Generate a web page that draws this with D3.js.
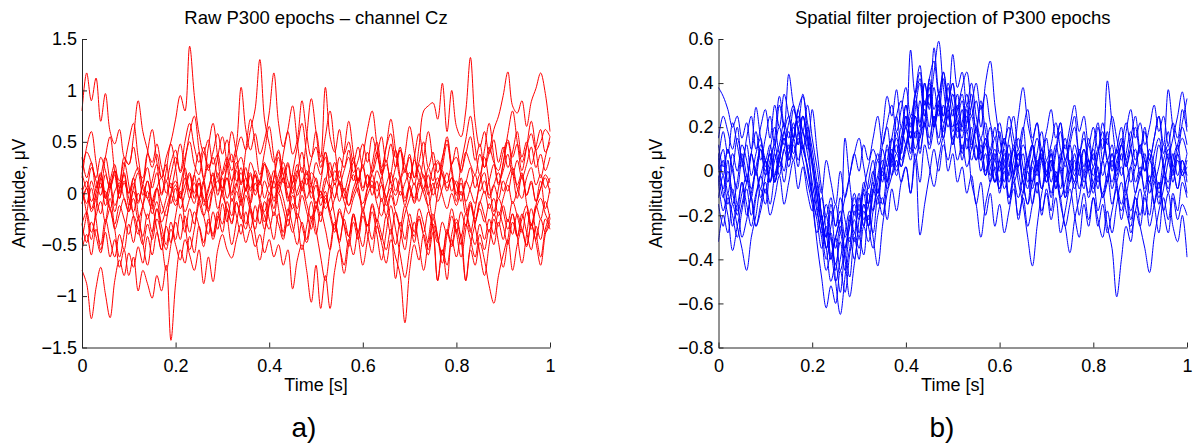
<!DOCTYPE html>
<html>
<head>
<meta charset="utf-8">
<script src="https://cdn.jsdelivr.net/npm/d3@7"></script>
<style>
  body { margin: 0; background: #fff; }
  svg { display: block; }
  text { font-family: "Liberation Sans", Arial, Helvetica, sans-serif; fill: #000; }
</style>
</head>
<body>
<svg id="fig" width="1194" height="447"></svg>
<script>
// Sampling interval of every epoch (s); sample i sits at i * sampleStep.
const sampleStep = 0.01;

const timeTicks = [0, 0.2, 0.4, 0.6, 0.8, 1];
const rawTicks = [-1.5, -1, -0.5, 0, 0.5, 1, 1.5];
const projTicks = [-0.8, -0.6, -0.4, -0.2, 0, 0.2, 0.4, 0.6];

const rawTitle = "Raw P300 epochs \u2013 channel Cz";
const projTitle = "Spatial filter projection of P300 epochs";
const xLabel = "Time [s]";
const yLabel = "Amplitude, \u03bcV";

// Raw single-trial epochs at Cz (µV), 101 samples each.
const rawEpochs = [
  [0.80, 1.17, 0.90, 1.12, 0.70, 0.97, 0.60, 0.48, 0.62, 0.35,
   0.28, 0.45, 0.22, 0.15, 0.38, 0.30, 0.48, 0.25, 0.12, 0.30,
   0.42, 0.20, 0.35, 0.50, 0.28, 0.18, 0.40, 0.22, 0.35, 0.15,
   0.05, 0.25, 0.38, 0.12, 0.20, 0.02, 0.30, 0.18, 0.08, 0.28,
   0.15, -0.05, 0.12, 0.25, 0.05, 0.18, -0.02, 0.10, 0.22, 0.08,
   0.30, 0.18, 0.40, 0.22, 0.12, 0.35, 0.25, 0.42, 0.20, 0.32,
   0.48, 0.30, 0.55, 0.38, 0.25, 0.45, 0.58, 0.35, 0.42, 0.28,
   0.15, 0.32, 0.20, 0.05, 0.25, 0.12, 0.30, 0.18, 0.02, 0.15,
   0.08, -0.08, 0.12, 0.02, -0.10, 0.10, 0.20, -0.02, 0.08, -0.05,
   0.12, 0.02, 0.20, 0.05, -0.05, 0.15, 0.25, 0.08, 0.18, 0.05,
   0.15],
  [0.20, 0.05, 0.25, 0.12, -0.02, 0.18, 0.05, 0.22, -0.05, 0.10,
   0.00, 0.15, 0.25, 0.05, -0.05, 0.12, 0.28, 0.15, 0.35, 0.50,
   0.72, 0.95, 0.80, 1.43, 0.95, 0.58, 0.40, 0.52, 0.28, 0.38,
   0.18, 0.30, 0.12, 0.25, 0.35, 0.15, 0.05, 0.22, 0.10, 0.28,
   0.20, 0.05, 0.18, 0.30, 0.12, 0.00, 0.15, 0.25, 0.08, 0.20,
   0.12, -0.02, 0.15, 0.05, 0.22, 0.10, -0.05, 0.08, 0.18, 0.00,
   -0.10, 0.05, 0.12, -0.05, 0.08, -0.12, 0.02, 0.15, -0.02, 0.10,
   0.20, 0.08, 0.28, 0.15, 0.05, 0.25, 0.32, 0.18, 0.10, 0.28,
   0.35, 0.20, 0.40, 0.28, 0.18, 0.38, 0.25, 0.45, 0.30, 0.22,
   0.40, 0.52, 0.35, 0.48, 0.30, 0.45, 0.58, 0.42, 0.50, 0.62,
   0.55],
  [-0.10, 0.05, -0.18, -0.05, 0.10, -0.12, 0.05, 0.22, 0.12, 0.35,
   0.28, 0.55, 0.90, 0.60, 0.42, 0.25, 0.38, 0.15, 0.28, 0.05,
   0.12, -0.05, 0.08, 0.20, 0.00, 0.15, -0.08, 0.05, 0.18, 0.02,
   0.20, 0.35, 0.22, 0.40, 0.55, 0.42, 0.62, 0.82, 1.30, 0.72,
   0.48, 0.30, 0.42, 0.18, 0.30, 0.10, 0.22, 0.02, 0.15, -0.05,
   0.08, -0.12, 0.02, -0.18, -0.05, 0.10, -0.08, -0.20, -0.05, 0.05,
   -0.15, -0.02, 0.08, -0.10, -0.22, -0.05, 0.05, -0.12, 0.02, -0.08,
   0.05, -0.05, 0.12, 0.02, 0.18, -0.02, 0.10, 0.22, 0.05, 0.15,
   -0.02, 0.10, -0.08, 0.05, 0.18, 0.02, 0.12, -0.05, 0.08, 0.20,
   0.02, 0.15, 0.25, 0.08, 0.20, -0.02, 0.12, -0.08, 0.05, 0.15,
   0.00],
  [-0.30, -0.18, -0.38, -0.22, -0.08, -0.28, -0.15, -0.35, -0.20, -0.05,
   -0.18, 0.02, -0.10, 0.08, -0.05, -0.15, 0.05, 0.15, 0.00, 0.18,
   0.35, 0.22, 0.50, 0.68, 0.45, 0.30, 0.45, 0.25, 0.40, 0.58,
   0.38, 0.52, 0.30, 0.48, 1.03, 0.62, 0.42, 0.58, 0.38, 0.52,
   0.78, 1.17, 0.68, 0.45, 0.60, 0.38, 0.52, 0.90, 0.58, 0.35,
   0.45, 0.25, 0.40, 0.15, 0.30, 0.08, 0.22, 0.35, 0.12, 0.25,
   0.05, 0.18, -0.02, 0.12, -0.08, 0.08, 0.20, 0.02, 0.15, -0.05,
   0.08, -0.10, 0.05, 0.18, -0.02, 0.10, -0.08, 0.05, 0.20, 0.02,
   0.12, -0.02, 0.10, 0.25, 0.05, 0.18, 0.00, 0.12, 0.28, 0.10,
   0.22, 0.38, 0.18, 0.32, 0.15, 0.28, 0.45, 0.25, 0.38, 0.22,
   0.35],
  [-0.30, -0.48, -0.28, -0.42, -0.58, -0.38, -0.62, -0.45, -0.72, -0.55,
   -0.80, -0.62, -0.95, -0.75, -0.88, -1.02, -0.80, -0.95, -0.70, -1.43,
   -0.88, -0.55, -0.68, -0.42, -0.58, -0.32, -0.48, -0.25, -0.40, -0.18,
   -0.30, -0.08, -0.22, 0.02, -0.12, 0.05, -0.10, 0.10, -0.05, -0.18,
   0.00, -0.15, 0.08, -0.05, -0.22, -0.02, -0.15, 0.05, -0.10, -0.25,
   -0.08, -0.22, -0.02, -0.18, -0.35, -0.15, -0.30, -0.42, -0.22, -0.38,
   -0.18, -0.32, -0.12, -0.28, -0.05, -0.22, -0.02, -0.18, -0.32, -0.12,
   -0.28, -0.42, -0.22, -0.38, -0.18, -0.32, -0.48, -0.28, -0.40, -0.22,
   -0.38, -0.18, -0.32, -0.12, -0.28, -0.08, -0.22, -0.38, -0.20, -0.32,
   -0.12, -0.28, -0.08, -0.22, -0.38, -0.18, -0.32, -0.12, -0.25, -0.08,
   -0.25],
  [-0.75, -0.88, -1.22, -0.92, -0.72, -0.98, -1.21, -0.85, -0.65, -0.80,
   -0.58, -0.72, -0.52, -0.68, -0.42, -0.60, -0.38, -0.55, -0.32, -0.48,
   -0.28, -0.45, -0.22, -0.38, -0.18, -0.32, -0.52, -0.28, -0.42, -0.22,
   -0.38, -0.15, -0.30, -0.08, -0.25, -0.02, -0.18, -0.35, -0.12, -0.28,
   -0.05, -0.22, 0.00, -0.15, -0.32, -0.10, -0.25, -0.02, -0.18, -0.35,
   -0.12, -0.28, -0.05, -0.22, -0.38, -0.18, -0.32, -0.52, -0.28, -0.45,
   -0.22, -0.40, -0.58, -0.32, -0.48, -0.68, -0.45, -0.62, -0.80, -1.26,
   -0.75, -0.50, -0.65, -0.40, -0.55, -0.30, -0.45, -0.60, -0.35, -0.50,
   -0.28, -0.42, -0.20, -0.35, -0.50, -0.30, -0.45, -0.25, -0.40, -0.18,
   -0.32, -0.50, -0.28, -0.42, -0.20, -0.38, -0.55, -0.32, -0.45, -0.25,
   -0.35],
  [0.05, -0.10, 0.12, -0.05, -0.20, 0.02, -0.15, -0.30, -0.12, -0.25,
   -0.40, -0.22, -0.35, -0.50, -0.30, -0.45, -0.25, -0.40, -0.55, -0.35,
   -0.50, -0.65, -0.45, -0.60, -0.75, -0.55, -0.88, -0.62, -0.86, -0.55,
   -0.40, -0.55, -0.63, -0.45, -0.30, -0.48, -0.35, -0.52, -0.40, -0.58,
   -0.45, -0.62, -0.50, -0.70, -0.55, -0.93, -0.65, -0.50, -0.75, -1.06,
   -0.70, -1.12, -0.80, -1.12, -0.75, -0.55, -0.70, -0.45, -0.60, -0.38,
   -0.52, -0.30, -0.45, -0.25, -0.40, -0.55, -0.35, -0.50, -0.28, -0.45,
   -0.20, -0.38, -0.15, -0.30, -0.48, -0.25, -0.42, -0.60, -0.38, -0.52,
   -0.35, -0.50, -0.30, -0.45, -0.62, -0.40, -0.55, -0.35, -0.50, -0.28,
   -0.45, -0.25, -0.40, -0.20, -0.35, -0.50, -0.30, -0.45, -0.25, -0.38,
   -0.30],
  [-0.10, 0.05, -0.15, 0.00, 0.15, -0.05, 0.10, -0.12, 0.02, 0.20,
   0.00, 0.15, -0.08, 0.08, 0.25, 0.05, 0.20, -0.02, 0.12, -0.10,
   0.05, -0.15, 0.00, 0.18, -0.05, 0.10, -0.12, 0.02, 0.20, -0.02,
   0.15, -0.05, 0.10, 0.30, 0.08, 0.25, 0.02, 0.18, -0.05, 0.12,
   0.00, 0.15, 0.35, 0.10, 0.28, 0.05, 0.20, 0.40, 0.18, 0.32,
   0.60, 0.35, 1.03, 0.55, 0.40, 0.62, 0.38, 0.50, 0.30, 0.45,
   0.25, 0.40, 0.20, 0.35, 0.55, 0.30, 0.48, 0.25, 0.42, 0.20,
   0.35, 0.15, 0.45, 0.80, 0.85, 0.88, 0.72, 1.07, 0.60, 1.00,
   0.65, 0.55, 0.80, 1.32, 0.70, 0.45, 0.60, 0.38, 0.52, 0.30,
   0.45, 0.25, 0.40, 0.60, 0.35, 0.50, 0.28, 0.45, 0.62, 0.40,
   0.50],
  [0.35, 0.15, 0.30, 0.05, 0.20, -0.05, 0.12, 0.28, 0.05, 0.18,
   -0.12, 0.05, 0.20, -0.02, 0.12, -0.10, 0.05, -0.20, -0.05, 0.10,
   -0.08, 0.08, 0.25, 0.02, 0.18, -0.05, 0.10, 0.28, 0.05, 0.20,
   0.00, 0.15, -0.08, 0.08, 0.25, 0.02, 0.18, -0.02, 0.12, 0.30,
   0.08, 0.22, 0.00, 0.15, -0.05, 0.10, 0.28, 0.05, 0.20, 0.00,
   0.15, -0.05, 0.10, 0.30, 0.08, 0.22, 0.02, 0.18, 0.35, 0.12,
   0.28, 0.05, 0.20, 0.40, 0.18, 0.32, 0.10, 0.25, 0.45, 0.22,
   0.38, 0.15, 0.30, 0.50, 0.25, 0.40, 0.20, 0.35, 0.52, 0.28,
   0.45, 0.22, 0.38, 0.55, 0.32, 0.48, 0.25, 0.40, 0.62, 0.75,
   0.95, 1.18, 0.85, 0.78, 0.90, 0.65, 0.89, 1.02, 1.17, 0.97,
   0.60],
  [-0.55, -0.40, -0.60, -0.35, -0.50, -0.25, -0.45, -0.62, -0.40, -0.55,
   -0.30, -0.48, -0.25, -0.42, -0.20, -0.38, -0.15, -0.32, -0.50, -0.28,
   -0.45, -0.20, -0.38, -0.15, -0.30, -0.05, -0.22, -0.40, -0.18, -0.35,
   -0.10, -0.28, -0.05, -0.22, -0.40, -0.18, -0.35, -0.12, -0.30, -0.08,
   -0.25, -0.45, -0.20, -0.38, -0.15, -0.32, -0.50, -0.28, -0.45, -0.22,
   -0.40, -0.18, -0.35, -0.55, -0.30, -0.48, -0.25, -0.42, -0.20, -0.38,
   -0.15, -0.32, -0.10, -0.28, -0.45, -0.22, -0.40, -0.18, -0.35, -0.55,
   -0.30, -0.48, -0.25, -0.42, -0.60, -0.38, -0.85, -0.55, -0.70, -0.45,
   -0.62, -0.40, -0.85, -0.55, -0.70, -0.48, -0.65, -0.90, -1.07, -0.80,
   -0.60, -0.45, -0.75, -0.50, -0.35, -0.52, -0.30, -0.48, -0.70, -0.40,
   -0.25],
  [0.00, 0.12, -0.08, 0.05, 0.18, -0.02, -0.15, 0.02, 0.10, -0.05,
   -0.18, -0.05, -0.25, -0.12, 0.02, -0.20, -0.08, -0.28, -0.15, -0.02,
   -0.12, 0.02, -0.18, -0.05, 0.10, -0.08, -0.22, -0.05, 0.05, -0.15,
   0.02, 0.15, -0.02, 0.10, -0.08, 0.05, 0.20, 0.02, 0.12, -0.05,
   0.08, -0.08, 0.05, 0.15, -0.02, -0.15, 0.02, 0.12, -0.05, 0.08,
   -0.10, 0.02, -0.15, -0.05, 0.10, -0.08, 0.05, -0.12, 0.00, 0.12,
   0.25, 0.08, 0.18, 0.02, 0.15, 0.28, 0.10, -0.02, 0.12, 0.22,
   0.05, -0.08, 0.10, 0.00, -0.12, 0.05, 0.15, -0.02, -0.15, 0.00,
   -0.12, 0.02, -0.20, -0.08, -0.25, -0.10, 0.02, -0.15, -0.05, -0.22,
   -0.05, 0.08, -0.10, 0.02, 0.15, -0.02, 0.10, -0.08, 0.05, 0.18,
   0.10],
  [0.25, 0.40, 0.30, 0.15, 0.35, 0.22, 0.05, 0.18, 0.00, 0.12,
   -0.05, -0.18, 0.00, -0.12, -0.25, -0.08, 0.05, -0.10, -0.22, -0.02,
   0.08, -0.05, 0.15, 0.02, -0.10, 0.10, -0.05, -0.18, 0.02, 0.12,
   -0.02, -0.15, -0.28, -0.10, -0.22, -0.35, -0.15, -0.28, -0.10, -0.22,
   -0.35, -0.18, -0.30, -0.45, -0.25, -0.38, -0.20, -0.32, -0.48, -0.28,
   -0.15, 0.02, -0.10, 0.08, -0.05, 0.12, 0.00, -0.12, 0.05, 0.15,
   0.02, 0.18, 0.05, 0.22, 0.10, -0.05, -0.30, -0.83, -0.45, -0.20,
   -0.05, 0.10, -0.08, 0.05, -0.15, -0.35, -0.85, -0.55, -0.84, -0.40,
   -0.25, -0.45, -0.85, -0.50, -0.30, -0.15, -0.28, -0.10, -0.22, -0.05,
   -0.18, -0.35, -0.20, -0.42, -0.25, -0.12, -0.30, -0.15, -0.05, -0.20,
   -0.30],
  [0.15, 0.45, 0.60, 0.30, 0.05, 0.35, 0.55, 0.20, -0.05, 0.25,
   0.50, 0.68, 0.35, 0.10, 0.40, 0.62, 0.30, 0.00, 0.22, 0.48,
   0.25, -0.05, 0.30, 0.58, 0.75, 0.42, 0.15, 0.45, 0.68, 0.35,
   0.05, 0.30, 0.60, 0.38, 0.10, 0.42, 0.72, 0.48, 0.18, 0.40,
   0.65, 0.35, 0.08, 0.38, 0.62, 0.85, 0.50, 0.20, 0.55, 0.92,
   0.60, 0.30, 0.55, 0.80, 0.45, 0.15, 0.40, 0.70, 0.38, 0.10,
   0.35, 0.62, 0.80, 0.48, 0.20, 0.45, 0.72, 0.42, 0.15, 0.38,
   0.65, 0.40, 0.12, 0.35, 0.60, 0.30, 0.05, 0.32, 0.55, 0.25,
   0.00, 0.28, 0.52, 0.75, 0.45, 0.18, 0.42, 0.68, 0.35, 0.08,
   0.30, 0.58, 0.80, 0.50, 0.22, 0.45, 0.70, 0.42, 0.15, 0.35,
   0.55],
  [-0.45, -0.20, 0.05, -0.25, -0.55, -0.30, -0.05, -0.35, -0.62, -0.40,
   -0.12, 0.10, -0.20, -0.48, -0.70, -0.40, -0.15, -0.45, -0.75, -0.50,
   -0.22, 0.00, -0.30, -0.55, -0.35, -0.08, 0.12, -0.18, -0.45, -0.25,
   0.02, -0.22, -0.50, -0.28, -0.05, 0.15, -0.12, -0.40, -0.65, -0.38,
   -0.10, 0.12, -0.15, -0.42, -0.20, 0.05, -0.25, -0.55, -0.32, -0.08,
   -0.35, -0.62, -0.85, -0.55, -0.28, -0.50, -0.78, -0.48, -0.20, -0.42,
   -0.70, -0.45, -0.18, -0.40, -0.65, -0.38, -0.12, -0.35, -0.60, -0.82,
   -0.55, -0.28, -0.50, -0.75, -0.45, -0.20, -0.42, -0.68, -0.40, -0.15,
   -0.38, -0.62, -0.35, -0.10, -0.32, -0.58, -0.80, -0.50, -0.25, -0.48,
   -0.72, -0.45, -0.20, -0.42, -0.68, -0.40, -0.15, -0.38, -0.62, -0.35,
   -0.20],
  [0.05, -0.20, -0.45, -0.15, 0.15, 0.35, 0.10, -0.18, 0.05, 0.30,
   0.08, -0.22, -0.40, -0.12, 0.12, -0.10, -0.35, -0.55, -0.28, 0.00,
   0.25, 0.48, 0.20, -0.05, 0.18, 0.40, 0.12, -0.15, 0.10, 0.35,
   0.55, 0.28, 0.00, 0.22, -0.05, -0.30, -0.08, 0.18, -0.10, -0.35,
   -0.12, 0.15, 0.40, 0.18, -0.08, 0.20, 0.45, 0.68, 0.38, 0.10,
   -0.15, 0.10, 0.35, 0.05, -0.22, -0.45, -0.20, 0.05, 0.30, 0.08,
   -0.18, 0.05, 0.28, 0.50, 0.22, -0.05, 0.18, 0.42, 0.15, -0.12,
   0.10, 0.35, 0.58, 0.30, 0.02, -0.25, 0.00, 0.25, 0.48, 0.20,
   -0.08, 0.15, -0.12, -0.38, -0.15, 0.10, 0.35, 0.10, -0.18, 0.05,
   0.28, 0.50, 0.22, -0.05, 0.18, -0.10, -0.35, -0.12, 0.12, -0.15,
   0.05]
];

// The same epochs after spatial filtering (µV), 101 samples each.
const projEpochs = [
  [0.38, 0.34, 0.28, 0.20, 0.25, 0.15, 0.22, 0.10, 0.18, 0.05,
   0.15, 0.25, 0.12, 0.30, 0.20, 0.44, 0.30, 0.22, 0.35, 0.18,
   0.05, -0.10, -0.25, -0.40, -0.30, -0.45, -0.28, -0.38, -0.20, -0.32,
   -0.12, -0.25, -0.05, 0.05, -0.10, 0.12, 0.20, 0.05, 0.25, 0.32,
   0.20, 0.55, 0.35, 0.42, 0.25, 0.38, 0.20, 0.32, 0.15, 0.28,
   0.12, 0.25, 0.08, 0.22, 0.35, 0.18, 0.30, 0.12, 0.20, 0.05,
   0.18, 0.02, 0.15, 0.25, 0.10, 0.20, 0.02, 0.12, 0.22, 0.05,
   0.15, 0.00, 0.10, 0.22, 0.05, 0.15, 0.25, 0.08, 0.18, 0.02,
   0.12, 0.22, 0.05, 0.18, 0.00, 0.10, 0.20, 0.05, 0.15, 0.25,
   0.10, 0.20, 0.05, 0.15, 0.25, 0.08, 0.18, 0.02, 0.12, 0.20,
   0.12],
  [0.15, 0.25, 0.18, 0.10, 0.20, 0.05, 0.12, -0.02, 0.08, 0.15,
   0.02, 0.10, 0.20, 0.08, 0.18, 0.25, 0.15, 0.28, 0.34, 0.22,
   0.10, -0.05, -0.20, -0.35, -0.28, -0.50, -0.65, -0.48, -0.30, -0.40,
   -0.22, -0.10, -0.25, -0.08, 0.05, -0.05, 0.12, 0.02, 0.18, 0.08,
   0.25, 0.15, 0.32, 0.20, 0.40, 0.28, 0.56, 0.35, 0.25, 0.40,
   0.30, 0.18, 0.28, 0.10, 0.20, 0.05, 0.15, -0.02, 0.10, 0.00,
   -0.08, 0.05, -0.12, 0.00, 0.10, -0.05, -0.15, 0.02, -0.10, 0.05,
   -0.02, 0.10, -0.05, 0.08, -0.12, 0.00, 0.12, 0.02, -0.08, 0.05,
   -0.05, 0.08, 0.18, 0.05, 0.12, -0.02, 0.08, -0.10, 0.02, 0.10,
   -0.02, 0.05, -0.10, 0.00, 0.12, 0.02, -0.05, 0.08, -0.02, 0.05,
   -0.05],
  [-0.32, -0.20, -0.28, -0.15, -0.25, -0.35, -0.45, -0.30, -0.20, -0.08,
   -0.15, 0.02, 0.15, 0.34, 0.20, 0.10, 0.22, 0.12, 0.25, 0.15,
   -0.10, -0.32, -0.48, -0.62, -0.52, -0.60, -0.45, -0.55, -0.38, -0.28,
   -0.35, -0.18, -0.25, -0.10, -0.02, 0.10, 0.02, 0.15, 0.25, 0.12,
   0.30, 0.20, 0.35, 0.22, 0.40, 0.30, 0.45, 0.59, 0.38, 0.25,
   0.35, 0.22, 0.15, 0.28, 0.10, 0.20, 0.05, 0.15, -0.02, 0.08,
   -0.10, 0.00, -0.15, -0.05, -0.22, -0.10, 0.00, -0.15, -0.05, -0.20,
   -0.08, -0.18, -0.02, -0.12, -0.25, -0.15, -0.05, -0.20, -0.10, -0.22,
   -0.12, -0.25, -0.15, -0.28, -0.18, -0.08, -0.22, -0.12, -0.28, -0.18,
   -0.08, -0.20, -0.05, -0.15, -0.28, -0.12, -0.22, -0.10, -0.18, -0.05,
   -0.12],
  [0.05, -0.10, -0.20, -0.36, -0.25, -0.15, -0.05, 0.08, 0.29, 0.15,
   0.05, 0.12, -0.02, 0.08, 0.18, 0.05, 0.15, 0.25, 0.12, 0.02,
   -0.10, -0.05, -0.20, -0.30, -0.18, -0.35, -0.25, -0.40, -0.57, -0.42,
   -0.30, -0.38, -0.20, -0.28, -0.12, -0.20, -0.05, 0.05, -0.02, 0.10,
   0.20, 0.08, 0.25, 0.15, 0.32, 0.20, 0.38, 0.25, 0.42, 0.30,
   0.53, 0.38, 0.45, 0.30, 0.40, 0.25, 0.15, 0.22, 0.08, 0.15,
   0.02, 0.10, -0.05, 0.05, 0.15, 0.02, -0.08, 0.05, -0.02, 0.08,
   -0.05, 0.02, 0.12, 0.00, -0.10, 0.02, -0.05, 0.08, -0.02, 0.05,
   -0.08, 0.02, -0.12, -0.02, 0.08, -0.05, -0.15, -0.05, 0.02, -0.10,
   0.00, -0.08, 0.05, -0.02, -0.12, 0.00, 0.08, -0.05, 0.05, -0.02,
   0.02],
  [-0.05, 0.05, -0.10, 0.02, -0.15, -0.05, -0.20, -0.10, 0.00, -0.12,
   -0.02, 0.08, -0.05, 0.05, 0.15, 0.05, 0.12, 0.02, 0.18, 0.10,
   0.28, 0.10, -0.08, -0.20, -0.12, -0.25, -0.18, -0.30, -0.22, -0.10,
   -0.18, -0.05, -0.15, -0.30, -0.43, -0.25, -0.10, -0.02, 0.08, 0.02,
   0.12, 0.05, 0.18, 0.08, 0.22, 0.12, 0.25, 0.15, 0.30, 0.20,
   0.28, 0.15, 0.22, 0.35, 0.25, 0.32, 0.20, 0.40, 0.50, 0.30,
   0.15, 0.05, 0.12, -0.02, 0.08, -0.05, 0.05, 0.12, 0.00, 0.10,
   -0.02, 0.08, -0.08, 0.05, 0.15, 0.02, -0.05, 0.08, 0.00, 0.12,
   0.02, 0.10, -0.02, 0.05, -0.08, 0.02, 0.12, 0.05, -0.05, 0.02,
   0.10, 0.00, 0.08, -0.05, 0.02, 0.12, 0.05, -0.02, 0.08, 0.15,
   0.08],
  [0.02, 0.10, -0.05, 0.08, 0.00, 0.12, 0.05, -0.08, 0.02, 0.10,
   -0.02, 0.05, 0.12, 0.02, 0.10, 0.18, 0.08, 0.15, 0.05, -0.05,
   -0.15, -0.28, -0.20, -0.35, -0.25, -0.15, -0.28, 0.15, -0.05, -0.20,
   -0.10, -0.22, -0.15, -0.05, -0.12, 0.02, -0.05, 0.08, 0.15, 0.05,
   0.12, 0.22, 0.10, 0.18, 0.28, 0.15, 0.25, 0.12, 0.20, 0.30,
   0.18, 0.28, 0.38, 0.45, 0.30, 0.20, 0.32, 0.18, 0.10, 0.20,
   0.08, 0.15, 0.02, 0.10, -0.05, -0.15, -0.30, -0.43, -0.25, -0.10,
   -0.02, -0.12, 0.00, -0.08, 0.05, -0.05, 0.08, -0.02, 0.10, 0.00,
   0.08, -0.05, 0.05, 0.15, 0.02, 0.10, -0.02, 0.08, 0.18, 0.05,
   0.12, 0.00, 0.10, 0.02, -0.08, 0.05, 0.12, 0.00, 0.08, -0.02,
   0.05],
  [-0.12, -0.02, -0.15, -0.08, -0.20, -0.10, -0.02, -0.12, -0.25, -0.15,
   -0.05, -0.15, -0.02, 0.05, -0.05, 0.08, 0.15, 0.05, 0.12, 0.00,
   -0.12, -0.22, -0.35, -0.25, -0.40, -0.30, -0.22, -0.12, -0.02, 0.08,
   0.15, 0.02, -0.08, 0.00, -0.10, 0.02, 0.10, -0.02, 0.05, -0.05,
   0.02, -0.10, 0.05, -0.29, -0.15, -0.02, 0.10, 0.00, 0.12, 0.05,
   0.15, 0.05, 0.12, 0.02, 0.10, 0.18, 0.08, 0.15, 0.05, 0.10,
   0.00, 0.12, 0.20, 0.10, 0.25, 0.38, 0.22, 0.12, 0.02, 0.10,
   -0.02, 0.05, -0.08, 0.02, -0.12, -0.05, 0.05, -0.08, 0.00, -0.12,
   -0.05, -0.18, -0.10, -0.25, -0.35, -0.57, -0.40, -0.25, -0.32, -0.18,
   -0.25, -0.12, -0.20, -0.05, -0.15, -0.02, -0.10, 0.00, -0.08, 0.05,
   -0.02],
  [0.12, 0.02, 0.10, 0.00, -0.08, 0.05, -0.05, 0.08, -0.02, 0.10,
   0.00, 0.08, -0.05, 0.05, 0.15, 0.08, 0.20, 0.12, 0.25, 0.15,
   0.02, -0.15, -0.28, -0.20, -0.38, -0.30, -0.45, -0.35, -0.25, -0.15,
   -0.22, -0.08, 0.02, 0.10, 0.05, 0.18, 0.34, 0.25, 0.37, 0.20,
   0.30, 0.15, 0.25, 0.10, 0.22, 0.35, 0.20, 0.28, 0.15, 0.25,
   0.12, 0.20, 0.05, 0.15, -0.05, -0.15, -0.30, -0.15, -0.05, 0.05,
   -0.05, 0.08, -0.02, 0.10, 0.00, -0.10, 0.02, 0.12, 0.02, -0.08,
   0.05, -0.05, 0.08, 0.18, 0.05, 0.12, 0.00, 0.10, 0.02, 0.15,
   0.05, 0.20, 0.10, 0.41, 0.22, 0.08, 0.15, 0.02, 0.10, -0.05,
   0.02, -0.10, -0.02, -0.15, -0.05, -0.18, -0.10, -0.25, -0.32, -0.20,
   -0.39],
  [-0.02, -0.12, 0.00, -0.10, -0.18, -0.05, -0.15, -0.25, -0.12, -0.02,
   -0.10, 0.02, -0.05, 0.08, 0.00, 0.12, 0.05, 0.18, 0.25, 0.12,
   0.05, -0.10, -0.22, -0.15, -0.30, -0.42, -0.32, -0.45, -0.35, -0.22,
   -0.30, -0.15, -0.22, -0.08, -0.15, 0.00, -0.08, 0.05, 0.12, 0.02,
   0.10, 0.18, 0.05, 0.15, 0.22, 0.10, 0.20, 0.30, 0.18, 0.25,
   0.15, 0.22, 0.10, 0.18, 0.05, 0.12, 0.00, 0.08, -0.05, 0.02,
   -0.08, 0.02, -0.12, -0.02, 0.08, -0.05, -0.15, -0.05, 0.05, -0.08,
   0.00, -0.10, -0.02, -0.15, -0.25, -0.37, -0.22, -0.12, -0.02, -0.10,
   0.02, -0.08, 0.05, -0.05, 0.08, 0.00, 0.12, 0.02, 0.10, 0.20,
   0.08, 0.18, 0.05, 0.15, 0.25, 0.12, 0.37, 0.20, 0.10, 0.22,
   0.33],
  [0.08, -0.02, 0.10, 0.02, 0.15, 0.05, -0.05, 0.08, 0.00, 0.12,
   0.05, -0.05, 0.05, 0.12, 0.22, 0.15, 0.28, 0.20, 0.10, 0.02,
   -0.10, -0.20, -0.12, -0.28, -0.40, -0.30, -0.22, -0.35, -0.25, -0.12,
   -0.20, -0.08, -0.15, -0.02, 0.08, -0.02, 0.05, 0.15, 0.08, 0.20,
   0.12, 0.25, 0.15, 0.32, 0.20, 0.42, 0.28, 0.35, 0.22, 0.30,
   0.40, 0.25, 0.32, 0.18, 0.25, 0.12, 0.05, 0.12, 0.02, -0.05,
   0.05, -0.05, 0.08, -0.02, -0.12, -0.02, 0.05, -0.08, 0.02, 0.10,
   0.00, 0.08, -0.05, 0.05, 0.12, 0.02, -0.08, 0.02, 0.10, 0.00,
   -0.10, -0.02, -0.12, -0.05, 0.05, -0.08, -0.18, -0.10, -0.22, -0.12,
   -0.25, -0.35, -0.46, -0.30, -0.18, -0.08, 0.05, 0.15, 0.25, 0.36,
   0.20],
  [-0.15, -0.25, -0.12, -0.20, -0.30, -0.18, -0.08, -0.20, -0.10, -0.02,
   0.05, -0.05, 0.08, -0.02, 0.10, 0.02, 0.15, 0.25, 0.18, 0.08,
   -0.05, -0.18, -0.30, -0.45, -0.38, -0.50, -0.40, -0.28, -0.18, -0.28,
   -0.15, -0.25, -0.10, -0.18, -0.05, 0.05, -0.05, 0.08, 0.00, 0.10,
   0.20, 0.10, 0.28, 0.40, 0.25, 0.35, 0.20, 0.30, 0.45, 0.32,
   0.20, 0.30, 0.18, 0.25, 0.12, 0.20, 0.08, -0.02, 0.05, -0.05,
   0.02, -0.08, 0.00, 0.12, 0.02, 0.08, -0.05, 0.05, 0.15, 0.05,
   -0.05, 0.05, -0.02, -0.12, -0.05, 0.05, -0.02, 0.08, -0.05, 0.02,
   0.10, 0.00, -0.10, -0.02, -0.15, -0.05, 0.02, -0.08, -0.18, -0.10,
   -0.02, 0.08, -0.05, 0.02, -0.10, -0.02, 0.10, 0.02, -0.08, 0.00,
   -0.10],
  [0.02, -0.08, 0.05, -0.15, -0.05, 0.08, -0.02, -0.12, 0.00, -0.08,
   0.05, -0.05, 0.10, 0.20, 0.12, 0.22, 0.30, 0.18, 0.10, 0.20,
   0.05, -0.10, -0.25, -0.35, -0.50, -0.42, -0.55, -0.38, -0.48, -0.30,
   -0.40, -0.25, -0.32, -0.18, -0.08, -0.15, 0.00, 0.10, 0.02, 0.15,
   0.25, 0.15, 0.35, 0.48, 0.30, 0.40, 0.22, 0.35, 0.25, 0.38,
   0.25, 0.35, 0.20, 0.30, 0.15, 0.05, 0.12, 0.00, 0.08, -0.05,
   0.05, 0.15, 0.05, -0.05, 0.02, 0.12, 0.05, -0.05, 0.08, 0.18,
   0.05, 0.12, 0.22, 0.10, 0.02, 0.12, 0.20, 0.08, 0.15, 0.05,
   -0.02, 0.08, 0.15, 0.05, -0.05, 0.05, 0.12, 0.22, 0.10, 0.02,
   0.12, 0.05, -0.05, 0.08, 0.15, 0.02, -0.08, 0.05, 0.12, 0.00,
   0.08],
  [-0.05, -0.18, -0.10, -0.25, -0.15, -0.30, -0.22, -0.12, -0.25, -0.18,
   -0.08, -0.20, -0.12, -0.02, -0.15, -0.05, 0.05, -0.08, 0.02, -0.10,
   -0.18, -0.08, -0.20, -0.30, -0.15, -0.25, -0.12, -0.22, -0.32, -0.18,
   -0.28, -0.15, -0.25, -0.35, -0.20, -0.12, -0.22, -0.08, -0.18, -0.05,
   0.02, -0.10, 0.08, -0.05, 0.12, 0.02, -0.07, 0.05, 0.15, 0.00,
   0.08, -0.05, 0.02, -0.10, -0.02, -0.15, -0.05, -0.20, -0.10, -0.25,
   -0.15, -0.28, -0.18, -0.08, -0.20, -0.12, -0.25, -0.15, -0.05, -0.18,
   -0.10, -0.22, -0.12, -0.28, -0.18, -0.08, -0.20, -0.30, -0.15, -0.25,
   -0.12, -0.22, -0.30, -0.18, -0.28, -0.15, -0.05, -0.18, -0.25, -0.12,
   -0.20, -0.10, -0.25, -0.15, -0.05, -0.18, -0.28, -0.12, -0.22, -0.15,
   -0.20],
  [0.05, 0.18, 0.08, 0.22, 0.12, 0.02, 0.15, 0.25, 0.10, 0.20,
   0.28, 0.15, 0.30, 0.20, 0.35, 0.25, 0.15, 0.28, 0.18, 0.30,
   0.15, 0.02, -0.10, 0.05, -0.05, -0.15, 0.00, -0.12, -0.02, 0.08,
   0.00, 0.12, 0.05, 0.15, 0.25, 0.12, 0.22, 0.30, 0.18, 0.28,
   0.38, 0.25, 0.35, 0.45, 0.30, 0.42, 0.50, 0.35, 0.45, 0.32,
   0.40, 0.28, 0.35, 0.22, 0.30, 0.40, 0.28, 0.35, 0.22, 0.15,
   0.22, 0.12, 0.25, 0.15, 0.05, 0.18, 0.28, 0.15, 0.22, 0.10,
   0.18, 0.28, 0.15, 0.22, 0.10, 0.20, 0.30, 0.18, 0.25, 0.12,
   0.20, 0.10, 0.22, 0.12, 0.25, 0.15, 0.05, 0.18, 0.28, 0.15,
   0.22, 0.12, 0.20, 0.30, 0.18, 0.25, 0.12, 0.22, 0.15, 0.28,
   0.18]
];

const svg = d3.select("#fig");
const fontStack = '"Liberation Sans", Arial, Helvetica, sans-serif';
const axisColor = "#262626";

// Tick labels use a true minus sign and no trailing zeros.
const fmt = d => d === 0 ? "0" : (d < 0 ? "\u2212" : "") + d3.format("~g")(Math.abs(d));

const panels = [
  { epochs: rawEpochs, ticks: rawTicks, domain: [-1.5, 1.5], title: rawTitle,
    color: "#ff0000", left: 82, right: 550, tag: "a)", tagX: 304 },
  { epochs: projEpochs, ticks: projTicks, domain: [-0.8, 0.6], title: projTitle,
    color: "#0000ff", left: 718.5, right: 1187, tag: "b)", tagX: 942 }
];
const plotTop = 39, plotBottom = 347.5;

panels.forEach(p => {
  const x = d3.scaleLinear().domain([0, 1]).range([p.left, p.right]);
  const y = d3.scaleLinear().domain(p.domain).range([plotBottom, plotTop]);
  const g = svg.append("g");

  const line = d3.line()
    .x((d, i) => x(i * sampleStep))
    .y(d => y(d))
    .curve(d3.curveCatmullRom.alpha(0.5));

  g.append("g")
    .selectAll("path")
    .data(p.epochs)
    .join("path")
    .attr("d", line)
    .attr("fill", "none")
    .attr("stroke", p.color)
    .attr("stroke-width", 1)
    .attr("stroke-linejoin", "round");

  const yAxis = g.append("g")
    .attr("transform", `translate(${p.left},0)`)
    .call(d3.axisLeft(y).tickValues(p.ticks).tickFormat(fmt)
      .tickSizeInner(-5).tickSizeOuter(0).tickPadding(5));
  const xAxis = g.append("g")
    .attr("transform", `translate(0,${plotBottom})`)
    .call(d3.axisBottom(x).tickValues(timeTicks).tickFormat(fmt)
      .tickSizeInner(-5).tickSizeOuter(0).tickPadding(12));
  [yAxis, xAxis].forEach(a => {
    a.attr("font-family", fontStack).attr("font-size", 18);
    a.selectAll("path, line").attr("stroke", axisColor).attr("stroke-width", 1);
    a.selectAll("text").attr("fill", "#000");
  });

  const cx = (p.left + p.right) / 2;
  g.append("text")
    .attr("x", cx).attr("y", 24)
    .attr("text-anchor", "middle")
    .attr("font-size", 18.5)
    .text(p.title);

  g.append("text")
    .attr("x", cx).attr("y", 391)
    .attr("text-anchor", "middle")
    .attr("font-size", 18)
    .text(xLabel);

  g.append("text")
    .attr("transform", `translate(${p.left - 57},${(plotTop + plotBottom) / 2}) rotate(-90)`)
    .attr("text-anchor", "middle")
    .attr("font-size", 17.5)
    .text(yLabel);

  g.append("text")
    .attr("x", p.tagX).attr("y", 437)
    .attr("text-anchor", "middle")
    .attr("font-family", '"Liberation Serif", "DejaVu Serif", serif')
    .attr("font-size", 28)
    .text(p.tag);
});
</script>
</body>
</html>
